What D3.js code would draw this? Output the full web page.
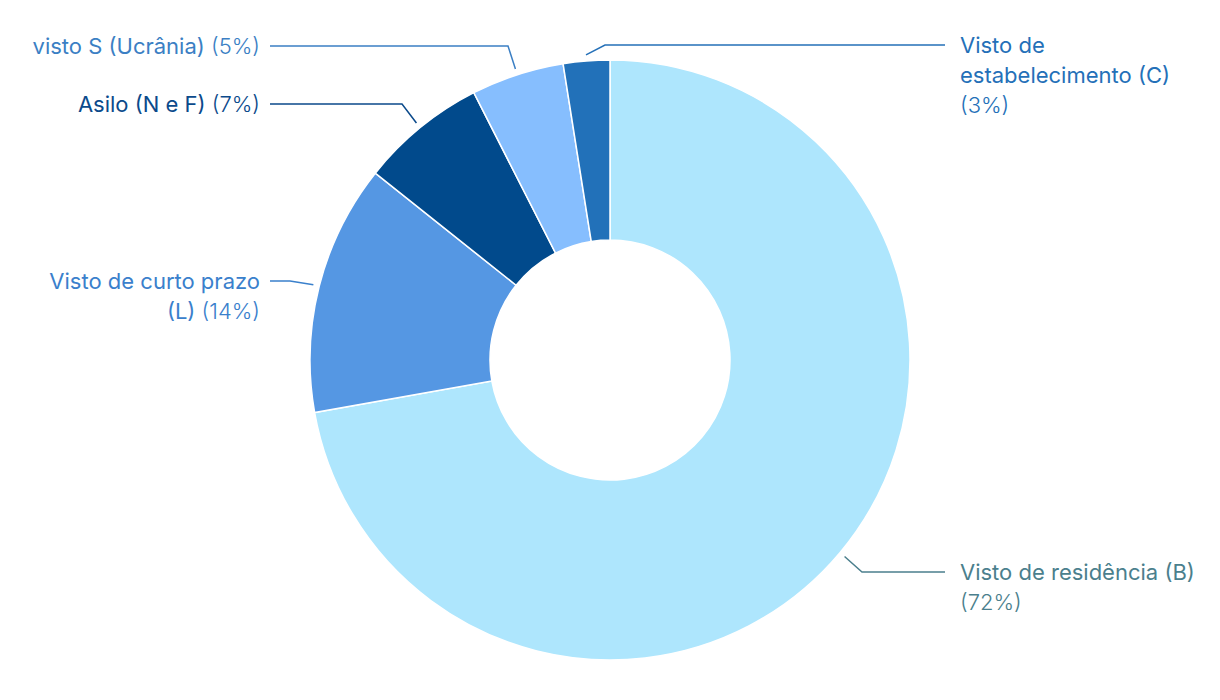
<!DOCTYPE html>
<html>
<head>
<meta charset="utf-8">
<script src="https://cdn.jsdelivr.net/npm/d3@7"></script>
<style>
  html, body { margin: 0; padding: 0; background: #fff; }
  svg { display: block; font-family: Inter, Roboto, "Noto Sans", sans-serif; }
  .pct { font-weight: 300; }
</style>
</head>
<body>
<svg id="chart"></svg>
<script>
const width = 1220;
const height = 700;

// data, clockwise from 12 o'clock
const categories = ["Visto de residência (B)", "Visto de curto prazo (L)", "Asilo (N e F)", "visto S (Ucrânia)", "Visto de estabelecimento (C)"];
const values = [72.2, 13.5, 6.8, 5.0, 2.5];
const sliceColors = ["#aee6fd", "#5597e3", "#014a8c", "#86befe", "#2271b9"];
const labelColors = ["#4b7f8d", "#3a80cc", "#0b4a8b", "#3b7fc4", "#2470b8"];

// label layout: wrapped lines, side, y of first line, elbow x
const labelLayout = [
    { lines: ["Visto de residência (B)", "%"], side: "right", y: 572, elbowX: 862 },
    { lines: ["Visto de curto prazo", "(L) %"], side: "left", y: 281, elbowX: 290 },
    { lines: ["Asilo (N e F) %"], side: "left", y: 104, elbowX: 402 },
    { lines: ["visto S (Ucrânia) %"], side: "left", y: 46, elbowX: 508 },
    { lines: ["Visto de", "estabelecimento (C)", "%"], side: "right", y: 45, elbowX: 605 }
];

const cx = 610, cy = 360;
const outerR = 300, innerR = 120;
const lineH = 30;

const svg = d3.select("#chart")
    .attr("width", width)
    .attr("height", height);

const g = svg.append("g").attr("transform", `translate(${cx},${cy})`);

const pie = d3.pie().sort(null).value(d => d)(values);
const arc = d3.arc().innerRadius(innerR).outerRadius(outerR);

g.selectAll("path.slice")
    .data(pie)
    .enter()
    .append("path")
    .attr("class", "slice")
    .attr("d", arc)
    .style("fill", (d, i) => sliceColors[i])
    .style("stroke", "#fff")
    .style("stroke-width", 1.5);

// leader lines
const startArc = d3.arc().innerRadius(306).outerRadius(306);
pie.forEach(function (d, i) {
    const lay = labelLayout[i];
    const p0 = startArc.centroid(d);
    const ex = lay.elbowX - cx, ey = lay.y - cy;
    const endX = (lay.side == "left" ? 270 : 945) - cx;
    g.append("polyline")
        .attr("points", `${p0[0]},${p0[1]} ${ex},${ey} ${endX},${ey}`)
        .style("fill", "none")
        .style("stroke", labelColors[i])
        .style("stroke-width", 1.5);

    const text = svg.append("text")
        .attr("x", lay.side == "left" ? 260 : 960)
        .attr("y", lay.y)
        .attr("text-anchor", lay.side == "left" ? "end" : "start")
        .style("fill", labelColors[i])
        .style("font-size", "22px");

    lay.lines.forEach(function (ln, j) {
        const t = text.append("tspan")
            .attr("x", lay.side == "left" ? 260 : 960)
            .attr("dy", j == 0 ? "0.36em" : lineH);
        const pct = `(${Math.round(values[i])}%)`;
        if (ln == "%") {
            t.append("tspan").attr("class", "pct").text(pct);
        } else if (ln.endsWith(" %")) {
            t.append("tspan").text(ln.slice(0, -2) + " ");
            t.append("tspan").attr("class", "pct").text(pct);
        } else {
            t.text(ln);
        }
    });
});
</script>
</body>
</html>
